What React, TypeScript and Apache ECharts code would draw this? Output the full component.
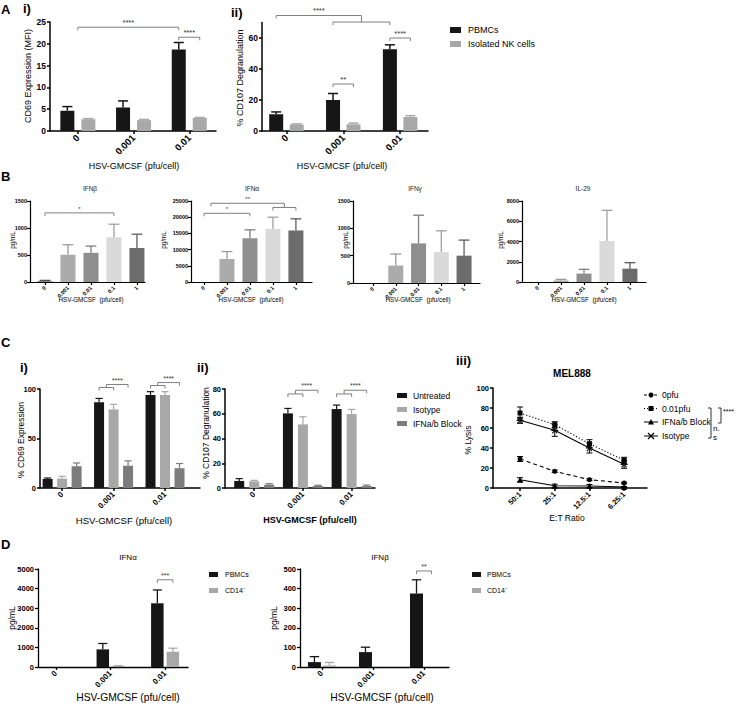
import React, { useEffect, useRef } from 'react';
import * as echarts from 'echarts';

const FONT = '"Liberation Sans", Arial, Helvetica, sans-serif';
const BLACK = '#161616';
const GRAY = '#a8a8a8';
const DARK = '#7c7c7c';
const B_COLORS = ['#4f4f4f', '#ababab', '#8e8e8e', '#dadada', '#6c6c6c'];
const B_ERR_COLORS = ['#4f4f4f', '#9a9a9a', '#7e7e7e', '#a0a0a0', '#5c5c5c'];
const SIG = '#7f7f7f';

// ---------------- categories / ticks ----------------
const dose3 = ['0', '0.001', '0.01'];
const dose5 = ['0', '0.001', '0.01', '0.1', '1'];
const etRatio = ['50:1', '25:1', '12.5:1', '6.25:1'];

const yTicksAi = [0, 5, 10, 15, 20, 25];
const yTicksAii = [0, 20, 40, 60];
const yTicksB1 = [0, 500, 1000, 1500];
const yTicksB2 = [0, 5000, 10000, 15000, 20000, 25000];
const yTicksB3 = [0, 500, 1000, 1500];
const yTicksB4 = [0, 2000, 4000, 6000, 8000];
const yTicksCi = [0, 50, 100];
const yTicksCii = [0, 20, 40, 60, 80];
const yTicksCiii = [0, 20, 40, 60, 80, 100];
const yTicksD1 = [0, 1000, 2000, 3000, 4000, 5000];
const yTicksD2 = [0, 100, 200, 300, 400, 500];

// ---------------- A i) CD69 MFI ----------------
const aiPBMC = [4.65, 5.4, 18.7];
const aiPBMCErr = [0.95, 1.5, 1.6];
const aiNK = [2.7, 2.5, 3.0];
const aiNKErr = [0.15, 0.15, 0.1];
// ---------------- A ii) CD107 ----------------
const aiiPBMC = [10.8, 20.0, 52.8];
const aiiPBMCErr = [1.5, 4.2, 2.8];
const aiiNK = [4.2, 4.3, 9.0];
const aiiNKErr = [0.4, 0.8, 0.9];
// ---------------- B cytokines ----------------
const bIFNb = [12, 505, 540, 830, 630];
const bIFNbErr = [18, 185, 125, 240, 255];
const bIFNa = [0, 7100, 13500, 16400, 15900];
const bIFNaErr = [0, 2300, 2600, 3600, 3600];
const bIFNg = [0, 320, 725, 565, 500];
const bIFNgErr = [0, 210, 515, 390, 285];
const bIL29 = [0, 160, 830, 4050, 1320];
const bIL29Err = [0, 100, 420, 3030, 590];
// ---------------- C i) CD69 % ----------------
const ciUntreated = [9.1, 86.5, 93.9];
const ciUntreatedErr = [1.0, 4.0, 3.4];
const ciIsotype = [9.5, 79.4, 93.9];
const ciIsotypeErr = [2.3, 5.1, 3.4];
const ciBlock = [22.0, 22.6, 20.0];
const ciBlockErr = [3.3, 4.8, 4.7];
// ---------------- C ii) CD107 % ----------------
const ciiUntreated = [5.7, 60.3, 63.8];
const ciiUntreatedErr = [1.9, 4.0, 3.2];
const ciiIsotype = [5.4, 51.4, 59.7];
const ciiIsotypeErr = [0.8, 6.2, 3.8];
const ciiBlock = [2.7, 1.6, 1.6];
const ciiBlockErr = [0.8, 0.6, 0.8];
// ---------------- C iii) MEL888 lysis ----------------
const lys0pfu = [29, 16.7, 8.3, 5];
const lys0pfuErr = [2.5, 1.2, 1, 0.8];
const lys001pfu = [75, 63.3, 44.3, 27.7];
const lys001pfuErr = [6, 3, 4, 3];
const lysBlock = [8.3, 2.3, 2, 1];
const lysBlockErr = [2, 1.5, 1.5, 0.5];
const lysIsotype = [67.7, 57.7, 40, 23.7];
const lysIsotypeErr = [3, 6, 5, 4];
// ---------------- D ----------------
const dIFNaPBMC = [0, 900, 3250];
const dIFNaPBMCErr = [0, 300, 680];
const dIFNaCD14 = [0, 50, 780];
const dIFNaCD14Err = [0, 20, 180];
const dIFNbPBMC = [25, 76, 375];
const dIFNbPBMCErr = [28, 25, 70];
const dIFNbCD14 = [8, 0, 0];
const dIFNbCD14Err = [15, 0, 0];

// ---------------- significance annotations ----------------
type XRef = number | [number, number] | { mid: number };
type Sig = { a: XRef; b: XRef; y: number; label?: string };
const sigAi: Sig[] = [
  { a: 0, b: [2, 0], y: 23.8, label: '****' },
  { a: [2, 0], b: [2, 1], y: 21.5, label: '****' },
];
const sigAii: Sig[] = [
  { a: [1, 0], b: [2, 0], y: 70.3 },
  { a: [0, 0], b: { mid: 0 }, y: 74.5, label: '****' },
  { a: [1, 0], b: [1, 1], y: 30.3, label: '**' },
  { a: [2, 0], b: [2, 1], y: 60, label: '****' },
];
const sigB1: Sig[] = [{ a: 0, b: 3, y: 1280, label: '*' }];
const sigB2: Sig[] = [
  { a: 0, b: 2, y: 21200, label: '*' },
  { a: 3, b: 4, y: 23000 },
  { a: 0.3, b: { mid: 1 }, y: 24300, label: '**' },
];
const sigCi: Sig[] = [
  { a: [1, 0], b: [1, 1], y: 101.5 },
  { a: { mid: 0 }, b: [1, 2], y: 104.5, label: '****' },
  { a: [2, 0], b: [2, 1], y: 103.5 },
  { a: { mid: 2 }, b: [2, 2], y: 106.5, label: '****' },
];
const sigCii: Sig[] = [
  { a: [1, 0], b: [1, 1], y: 76 },
  { a: { mid: 0 }, b: [1, 2], y: 79, label: '****' },
  { a: [2, 0], b: [2, 1], y: 76 },
  { a: { mid: 2 }, b: [2, 2], y: 79, label: '****' },
];
const sigD1: Sig[] = [{ a: [2, 0], b: [2, 1], y: 4450, label: '***' }];
const sigD2: Sig[] = [{ a: [2, 0], b: [2, 1], y: 490, label: '**' }];

// ---------------- layout ----------------
type Panel = {
  left: number; top: number; width: number; height: number;
  xMin: number; xMax: number; yMax: number; yTicks: number[]; cats: string[];
  tf: number; xf: number; lm: number; aw: number; n: number; bw: number; gap: number; ew: number;
};
const P: Panel[] = [
  { left: 50, top: 22, width: 166, height: 109, xMin: -0.5, xMax: 2.48, yMax: 25, yTicks: yTicksAi, cats: dose3, tf: 8.5, xf: 9.5, lm: 4, aw: 1.5, n: 2, bw: 14, gap: 7, ew: 1.5 },
  { left: 262, top: 22.5, width: 166, height: 108.5, xMin: -0.43, xMax: 2.49, yMax: 70, yTicks: yTicksAii, cats: dose3, tf: 8.5, xf: 9.5, lm: 4, aw: 1.5, n: 2, bw: 14, gap: 6.5, ew: 1.5 },
  { left: 30, top: 201, width: 115, height: 81, xMin: -0.652, xMax: 4.35, yMax: 1500, yTicks: yTicksB1, cats: dose5, tf: 5.5, xf: 5.5, lm: 3, aw: 1.2, n: 1, bw: 15, gap: 0, ew: 1.3 },
  { left: 191, top: 201, width: 121, height: 81, xMin: -0.565, xMax: 4.7, yMax: 25000, yTicks: yTicksB2, cats: dose5, tf: 5.5, xf: 5.5, lm: 3, aw: 1.2, n: 1, bw: 15, gap: 0, ew: 1.3 },
  { left: 353, top: 201, width: 127, height: 82, xMin: -0.88, xMax: 4.7, yMax: 1500, yTicks: yTicksB3, cats: dose5, tf: 5.5, xf: 5.5, lm: 3, aw: 1.2, n: 1, bw: 15, gap: 0, ew: 1.3 },
  { left: 522, top: 201, width: 124, height: 81, xMin: -0.7, xMax: 4.7, yMax: 8000, yTicks: yTicksB4, cats: dose5, tf: 5.5, xf: 5.5, lm: 3, aw: 1.2, n: 1, bw: 15, gap: 0, ew: 1.3 },
  { left: 40, top: 389, width: 160, height: 99, xMin: -0.43, xMax: 2.68, yMax: 100, yTicks: yTicksCi, cats: dose3, tf: 7.5, xf: 8, lm: 4, aw: 1.5, n: 3, bw: 10, gap: 4.5, ew: 1.2 },
  { left: 225, top: 389, width: 150, height: 99, xMin: -0.6, xMax: 2.48, yMax: 80, yTicks: yTicksCii, cats: dose3, tf: 7.5, xf: 8, lm: 4, aw: 1.5, n: 3, bw: 10, gap: 5, ew: 1.2 },
  { left: 493, top: 388, width: 154, height: 100, xMin: -0.78, xMax: 3.66, yMax: 100, yTicks: yTicksCiii, cats: etRatio, tf: 7.5, xf: 7.5, lm: 4, aw: 1.5, n: 1, bw: 0, gap: 0, ew: 1 },
  { left: 38, top: 569, width: 150, height: 98, xMin: -0.33, xMax: 2.42, yMax: 5000, yTicks: yTicksD1, cats: dose3, tf: 7.5, xf: 8, lm: 4, aw: 1.3, n: 2, bw: 12.5, gap: 3, ew: 1.3 },
  { left: 300, top: 569, width: 149, height: 98, xMin: -0.43, xMax: 2.49, yMax: 500, yTicks: yTicksD2, cats: dose3, tf: 7.5, xf: 8, lm: 4, aw: 1.3, n: 2, bw: 13, gap: 2, ew: 1.3 },
];

const SIGS: { g: number; list: Sig[]; fs: number }[] = [
  { g: 0, list: sigAi, fs: 7.5 },
  { g: 1, list: sigAii, fs: 7.5 },
  { g: 2, list: sigB1, fs: 6 },
  { g: 3, list: sigB2, fs: 6 },
  { g: 6, list: sigCi, fs: 7 },
  { g: 7, list: sigCii, fs: 7 },
  { g: 9, list: sigD1, fs: 7 },
  { g: 10, list: sigD2, fs: 7 },
];

function off(p: Panel, s: number) {
  return (s - (p.n - 1) / 2) * (p.bw + p.gap);
}

function bar(g: number, name: string, vals: number[], color: string | string[]) {
  const p = P[g];
  return {
    type: 'bar', name, xAxisIndex: g, yAxisIndex: g, silent: true, z: 2,
    barWidth: p.bw, barGap: p.n > 1 ? `${(p.gap / p.bw) * 100}%` : '0%',
    data: vals.map((v, i) => ({
      value: [i, v],
      itemStyle: { color: Array.isArray(color) ? color[i] : color },
    })),
  };
}

function err(g: number, vals: number[], errs: number[], s: number, color: string | string[], both = false, capHalf?: number) {
  const p = P[g];
  const dx = p.bw > 0 ? off(p, s) : 0;
  const cap = capHalf ?? p.bw * 0.36;
  return {
    type: 'custom', xAxisIndex: g, yAxisIndex: g, silent: true, z: 4,
    data: vals.map((v, i) => [i, v, errs[i]]),
    renderItem: (params: any, api: any) => {
      const x = api.value(0), y = api.value(1), e = api.value(2);
      if (!(e > 0)) return null;
      const c = Array.isArray(color) ? color[params.dataIndex] : color;
      const pb = api.coord([x, both ? y - e : y]);
      const pt = api.coord([x, y + e]);
      const cx = pb[0] + dx;
      const st = { stroke: c, lineWidth: p.ew };
      const ch: any[] = [
        { type: 'line', shape: { x1: cx, y1: pb[1], x2: cx, y2: pt[1] }, style: st },
        { type: 'line', shape: { x1: cx - cap, y1: pt[1], x2: cx + cap, y2: pt[1] }, style: st },
      ];
      if (both) ch.push({ type: 'line', shape: { x1: cx - cap, y1: pb[1], x2: cx + cap, y2: pb[1] }, style: st });
      return { type: 'group', children: ch };
    },
  };
}

const ASTERISK = 'path://M-5,-0.7L5,-0.7L5,0.7L-5,0.7Z M-4,-3L3,4L4,3L-3,-4Z M-4,3L-3,4L4,-3L3,-4Z';

function lineSeries(name: string, vals: number[], dash: any, symbol: string, size: number) {
  return {
    type: 'line', name, xAxisIndex: 8, yAxisIndex: 8, silent: true, z: 5,
    data: vals.map((v, i) => [i, v]),
    symbol, symbolSize: size, showSymbol: true,
    lineStyle: { color: '#000', width: 1.1, type: dash },
    itemStyle: { color: '#000', borderWidth: 0 },
  };
}

function txt(text: string, x: number, y: number, size: number, o: any = {}) {
  return {
    type: 'text', x, y, rotation: o.rot || 0, silent: true, z: 10,
    style: {
      text, fontSize: size, fontWeight: o.bold ? 'bold' : 'normal', fill: o.color || '#000',
      fontFamily: FONT, align: o.align || 'center', verticalAlign: o.va || 'middle',
    },
  };
}
function ln(x1: number, y1: number, x2: number, y2: number, color = SIG, w = 1, dash?: number[]) {
  return { type: 'line', silent: true, z: 10, shape: { x1, y1, x2, y2 }, style: { stroke: color, lineWidth: w, lineDash: dash } };
}
function rc(x: number, y: number, w: number, h: number, fill: string) {
  return { type: 'rect', silent: true, z: 10, shape: { x, y, width: w, height: h }, style: { fill } };
}

function buildOption() {
  const grid = P.map((p) => ({ left: p.left, top: p.top, width: p.width, height: p.height }));
  const xAxis = P.map((p, i) => ({
    type: 'value', gridIndex: i, min: p.xMin, max: p.xMax,
    axisLine: { show: true, onZero: false, lineStyle: { color: '#000', width: p.aw } },
    axisTick: { show: true, length: 3, customValues: p.cats.map((_, k) => k), lineStyle: { color: '#000', width: p.aw } },
    axisLabel: {
      customValues: p.cats.map((_, k) => k), formatter: (v: number) => p.cats[Math.round(v)] ?? '',
      rotate: 45, fontSize: p.xf, fontWeight: 'bold', color: '#000', margin: 5, fontFamily: FONT,
    },
    splitLine: { show: false },
  }));
  const yAxis = P.map((p, i) => ({
    type: 'value', gridIndex: i, min: 0, max: p.yMax,
    axisLine: { show: true, onZero: false, lineStyle: { color: '#000', width: p.aw } },
    axisTick: { show: true, length: 3, customValues: p.yTicks, lineStyle: { color: '#000', width: p.aw } },
    axisLabel: {
      customValues: p.yTicks, formatter: (v: number) => String(v),
      fontSize: p.tf, fontWeight: 'bold', color: '#000', margin: p.lm, fontFamily: FONT,
    },
    splitLine: { show: false },
  }));

  const series: any[] = [
    // A i
    bar(0, 'PBMCs', aiPBMC, BLACK), bar(0, 'Isolated NK cells', aiNK, GRAY),
    err(0, aiPBMC, aiPBMCErr, 0, BLACK), err(0, aiNK, aiNKErr, 1, GRAY),
    // A ii
    bar(1, 'PBMCs', aiiPBMC, BLACK), bar(1, 'Isolated NK cells', aiiNK, GRAY),
    err(1, aiiPBMC, aiiPBMCErr, 0, BLACK), err(1, aiiNK, aiiNKErr, 1, GRAY),
    // B
    bar(2, 'IFNβ', bIFNb, B_COLORS), err(2, bIFNb, bIFNbErr, 0, B_ERR_COLORS),
    bar(3, 'IFNα', bIFNa, B_COLORS), err(3, bIFNa, bIFNaErr, 0, B_ERR_COLORS),
    bar(4, 'IFNγ', bIFNg, B_COLORS), err(4, bIFNg, bIFNgErr, 0, B_ERR_COLORS),
    bar(5, 'IL-29', bIL29, B_COLORS), err(5, bIL29, bIL29Err, 0, B_ERR_COLORS),
    // C i
    bar(6, 'Untreated', ciUntreated, BLACK), bar(6, 'Isotype', ciIsotype, GRAY), bar(6, 'IFNa/b Block', ciBlock, DARK),
    err(6, ciUntreated, ciUntreatedErr, 0, BLACK), err(6, ciIsotype, ciIsotypeErr, 1, GRAY), err(6, ciBlock, ciBlockErr, 2, DARK),
    // C ii
    bar(7, 'Untreated', ciiUntreated, BLACK), bar(7, 'Isotype', ciiIsotype, GRAY), bar(7, 'IFNa/b Block', ciiBlock, DARK),
    err(7, ciiUntreated, ciiUntreatedErr, 0, BLACK), err(7, ciiIsotype, ciiIsotypeErr, 1, GRAY), err(7, ciiBlock, ciiBlockErr, 2, DARK),
    // C iii
    lineSeries('0pfu', lys0pfu, [4, 3], 'circle', 5),
    lineSeries('0.01pfu', lys001pfu, [1.2, 2], 'rect', 5),
    lineSeries('IFNa/b Block', lysBlock, 'solid', 'triangle', 6),
    lineSeries('Isotype', lysIsotype, 'solid', ASTERISK, 7),
    err(8, lys0pfu, lys0pfuErr, 0, '#000', true, 3),
    err(8, lys001pfu, lys001pfuErr, 0, '#000', true, 3),
    err(8, lysBlock, lysBlockErr, 0, '#000', true, 3),
    err(8, lysIsotype, lysIsotypeErr, 0, '#000', true, 3),
    // D
    bar(9, 'PBMCs', dIFNaPBMC, BLACK), bar(9, 'CD14⁻', dIFNaCD14, GRAY),
    err(9, dIFNaPBMC, dIFNaPBMCErr, 0, BLACK), err(9, dIFNaCD14, dIFNaCD14Err, 1, GRAY),
    bar(10, 'PBMCs', dIFNbPBMC, BLACK), bar(10, 'CD14⁻', dIFNbCD14, GRAY),
    err(10, dIFNbPBMC, dIFNbPBMCErr, 0, BLACK), err(10, dIFNbCD14, dIFNbCD14Err, 1, GRAY),
  ];

  return {
    animation: false,
    backgroundColor: '#ffffff',
    textStyle: { fontFamily: FONT },
    grid, xAxis, yAxis, series,
  };
}

function staticGraphics(): any[] {
  const R = Math.PI / 2;
  const g: any[] = [];
  // panel letters
  g.push(txt('A', 1, 3, 13, { bold: true, align: 'left', va: 'top' }));
  g.push(txt('i)', 23, 2, 13, { bold: true, align: 'left', va: 'top' }));
  g.push(txt('ii)', 231, 6, 13, { bold: true, align: 'left', va: 'top' }));
  g.push(txt('B', 1, 170, 13, { bold: true, align: 'left', va: 'top' }));
  g.push(txt('C', 1, 336, 13, { bold: true, align: 'left', va: 'top' }));
  g.push(txt('i)', 20, 361, 13, { bold: true, align: 'left', va: 'top' }));
  g.push(txt('ii)', 197, 361, 13, { bold: true, align: 'left', va: 'top' }));
  g.push(txt('iii)', 456, 354, 13, { bold: true, align: 'left', va: 'top' }));
  g.push(txt('D', 1, 538, 13, { bold: true, align: 'left', va: 'top' }));

  // A axis titles
  g.push(txt('CD69 Expression (MFI)', 28, 76, 9, { rot: R }));
  g.push(txt('HSV-GMCSF (pfu/cell)', 134, 166, 9));
  g.push(txt('% CD107 Degranulation', 240, 78, 9, { rot: R }));
  g.push(txt('HSV-GMCSF (pfu/cell)', 342, 166, 9));
  // A legend
  g.push(rc(450, 27, 11, 6, BLACK), txt('PBMCs', 468, 30, 9, { align: 'left' }));
  g.push(rc(450, 41, 11, 6, GRAY), txt('Isolated NK cells', 468, 44, 9, { align: 'left' }));

  // B titles and axis titles
  const bTitles: [string, number][] = [['IFNβ', 90], ['IFNα', 252], ['IFNγ', 415], ['IL-29', 583]];
  bTitles.forEach(([t, x]) => g.push(txt(t, x, 188, 6.5, { color: '#222' })));
  [12, 163, 345, 500].forEach((x) => g.push(txt('pg/mL', x, 240, 6.3, { rot: R })));
  [91, 251, 418, 584].forEach((x) => g.push(txt('HSV-GMCSF  (pfu/cell)', x, 299, 6.3)));

  // C axis titles
  g.push(txt('% CD69 Expression', 21, 440, 8.5, { rot: R }));
  g.push(txt('HSV-GMCSF (pfu/cell)', 124, 520, 9.6));
  g.push(txt('% CD107 Degranulation', 206, 433, 8.5, { rot: R }));
  g.push(txt('HSV-GMCSF (pfu/cell)', 310, 520, 9, { bold: true }));
  g.push(txt('MEL888', 572, 373, 10, { bold: true }));
  g.push(txt('% Lysis', 468, 440, 8.5, { rot: R }));
  g.push(txt('E:T Ratio', 567, 518, 8.5));
  // C bar legend
  g.push(rc(397, 393, 10, 5, BLACK), txt('Untreated', 413, 395.5, 8.5, { align: 'left' }));
  g.push(rc(397, 407, 10, 5, GRAY), txt('Isotype', 413, 409.5, 8.5, { align: 'left' }));
  g.push(rc(397, 421, 10, 5, DARK), txt('IFNa/b Block', 413, 423.5, 8.5, { align: 'left' }));
  // C iii legend
  const rows = [395, 408.5, 422, 436];
  g.push(ln(644, rows[0], 658, rows[0], '#000', 1, [3, 2]), { type: 'circle', silent: true, z: 11, shape: { cx: 651, cy: rows[0], r: 2.5 }, style: { fill: '#000' } });
  g.push(ln(644, rows[1], 658, rows[1], '#000', 1, [1, 2]), rc(648.5, rows[1] - 2.5, 5, 5, '#000'));
  g.push(ln(644, rows[2], 658, rows[2], '#000', 1), { type: 'polygon', silent: true, z: 11, shape: { points: [[651, rows[2] - 3], [654, rows[2] + 2.5], [648, rows[2] + 2.5]] }, style: { fill: '#000' } });
  g.push(ln(644, rows[3], 658, rows[3], '#000', 1), ln(648, rows[3] - 3, 654, rows[3] + 3, '#000', 1.2), ln(648, rows[3] + 3, 654, rows[3] - 3, '#000', 1.2));
  g.push(txt('0pfu', 662, rows[0], 8.5, { align: 'left' }));
  g.push(txt('0.01pfu', 662, rows[1], 8.5, { align: 'left' }));
  g.push(txt('IFNa/b Block', 662, rows[2], 8.5, { align: 'left' }));
  g.push(txt('Isotype', 662, rows[3], 8.5, { align: 'left' }));
  g.push(ln(711, 408, 711, 438, '#333'), ln(708, 408, 711, 408, '#333'), ln(708, 438, 711, 438, '#333'));
  g.push(txt('n.', 713, 428, 8, { align: 'left' }), txt('s', 713, 437, 8, { align: 'left' }));
  g.push(ln(721, 408, 721, 423, '#333'), ln(718, 408, 721, 408, '#333'), ln(718, 423, 721, 423, '#333'));
  g.push(txt('****', 723, 411, 7, { align: 'left' }));

  // D titles and axes
  g.push(txt('IFNα', 128, 557, 8));
  g.push(txt('IFNβ', 380, 557, 8));
  g.push(txt('pg/mL', 12, 618, 8.5, { rot: R }));
  g.push(txt('pg/mL', 274, 618, 8.5, { rot: R }));
  g.push(txt('HSV-GMCSF (pfu/cell)', 128, 697, 10.3));
  g.push(txt('HSV-GMCSF (pfu/cell)', 382, 697, 10.3));
  g.push(rc(209, 572, 9, 5, BLACK), txt('PBMCs', 225, 574.5, 7, { align: 'left' }));
  g.push(rc(209, 588, 9, 5, GRAY), txt('CD14⁻', 225, 590.5, 7, { align: 'left' }));
  g.push(rc(472, 572, 9, 5, BLACK), txt('PBMCs', 487, 574.5, 7, { align: 'left' }));
  g.push(rc(472, 588, 9, 5, GRAY), txt('CD14⁻', 487, 590.5, 7, { align: 'left' }));
  return g;
}

function bracketGraphics(chart: any): any[] {
  const out: any[] = [];
  for (const { g, list, fs } of SIGS) {
    const p = P[g];
    const solved: { x1: number; x2: number; y: number }[] = [];
    const toPx = (x: number, y: number) => chart.convertToPixel({ gridIndex: g }, [x, y]) as number[];
    list.forEach((s) => {
      const y = toPx(0, s.y)[1];
      const resolve = (r: XRef): [number, number] => {
        if (typeof r === 'number') return [toPx(r, 0)[0], y + 3];
        if (Array.isArray(r)) return [toPx(r[0], 0)[0] + off(p, r[1]), y + 3];
        const o = solved[r.mid];
        return [(o.x1 + o.x2) / 2, o.y];
      };
      const [x1, d1] = resolve(s.a);
      const [x2, d2] = resolve(s.b);
      solved.push({ x1, x2, y });
      out.push(ln(x1, d1, x1, y), ln(x1, y, x2, y), ln(x2, y, x2, d2));
      if (s.label) out.push(txt(s.label, (x1 + x2) / 2, y - 1, fs, { va: 'bottom', color: '#333' }));
    });
  }
  return out;
}

export default function App() {
  const ref = useRef<HTMLDivElement>(null);
  useEffect(() => {
    if (!ref.current) return;
    const chart = echarts.init(ref.current, null, { renderer: 'svg' });
    chart.setOption(buildOption() as any);
    chart.setOption({ graphic: [...staticGraphics(), ...bracketGraphics(chart)] } as any);
    return () => chart.dispose();
  }, []);
  return <div ref={ref} style={{ position: 'absolute', left: 0, top: 0, width: 738, height: 704, background: '#fff' }} />;
}
